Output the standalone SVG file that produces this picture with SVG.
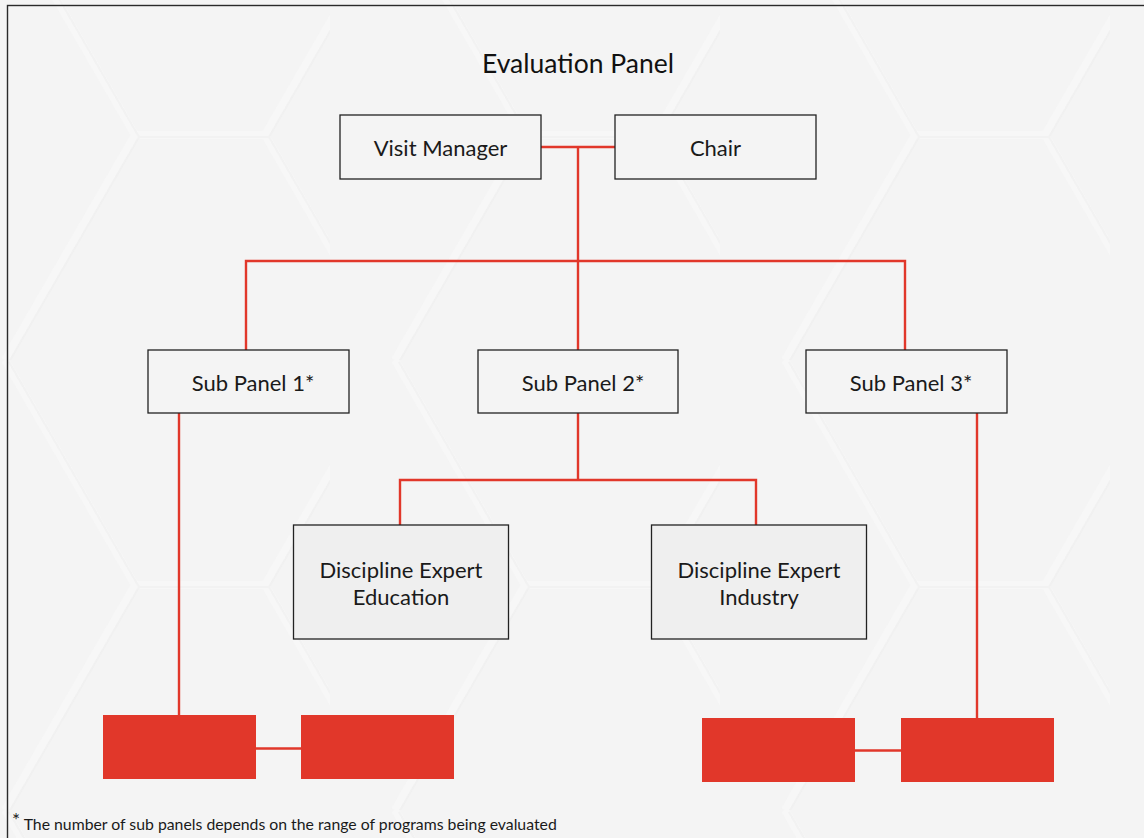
<svg xmlns="http://www.w3.org/2000/svg" width="1144" height="838" viewBox="0 0 1144 838">
  <style>
    .box { fill: #f4f4f4; stroke: #222; stroke-width: 1.3; }
    .box-alt { fill: #efefef; stroke: #222; stroke-width: 1.3; }
    .slot { fill: #e1372a; }
    .label { font-family: Lato, "Liberation Sans", sans-serif; font-size: 22px; fill: #1a1a1a; text-anchor: middle; }
    .title { font-family: Lato, "Liberation Sans", sans-serif; font-size: 26.5px; fill: #111; text-anchor: middle; }
    .note { font-family: Lato, "Liberation Sans", sans-serif; font-size: 15.8px; fill: #1a1a1a; }
    .link { fill: none; stroke: #e1372a; stroke-width: 2.4; }
  </style>
  <defs>
    <!-- faint hexagon texture for the backdrop -->
    <pattern id="hex" width="390" height="450" patternUnits="userSpaceOnUse" x="-60" y="-90">
      <g fill="none">
        <path d="M65 0 L195 225 L65 450 M195 225 L325 225 L455 0 M325 225 L455 450" stroke="#f9f9f9" stroke-width="8" opacity="0.7"/>
        <path d="M69 2 L199 227 L69 452 M199 227 L329 227 L459 2 M329 227 L459 452" stroke="#eeeeee" stroke-width="2" opacity="0.6"/>
      </g>
    </pattern>
  </defs>

  <!-- backdrop -->
  <rect x="0" y="0" width="1144" height="838" fill="#f4f4f4"/>
  <rect x="0" y="0" width="1144" height="838" fill="url(#hex)"/>
  <rect x="7.5" y="5.5" width="1200" height="900" fill="none" stroke="#2a2a2a" stroke-width="1.4"/>

  <text class="title" x="578" y="73">Evaluation Panel</text>

  <!-- connectors -->
  <g id="connectors">
    <path class="link" d="M541 147 H615"/>
    <path class="link" d="M578 147 V350"/>
    <path class="link" d="M246 350 V261 H905 V350"/>
    <path class="link" d="M179 413 V715"/>
    <path class="link" d="M578 413 V480"/>
    <path class="link" d="M400 525 V480 H756 V525"/>
    <path class="link" d="M977 413 V718"/>
    <path class="link" d="M256 748.5 H301"/>
    <path class="link" d="M855 750.5 H901"/>
  </g>

  <g id="visit-manager">
    <rect class="box" x="340" y="115" width="201" height="64"/>
    <text class="label" x="440.5" y="156">Visit Manager</text>
  </g>
  <g id="chair">
    <rect class="box" x="615" y="115" width="201" height="64"/>
    <text class="label" x="715.5" y="156">Chair</text>
  </g>

  <g id="sub-panel-1">
    <rect class="box" x="148" y="350" width="201" height="63"/>
    <text class="label" x="253" y="390.5">Sub Panel 1*</text>
  </g>
  <g id="sub-panel-2">
    <rect class="box" x="478" y="350" width="200" height="63"/>
    <text class="label" x="583" y="390.5">Sub Panel 2*</text>
  </g>
  <g id="sub-panel-3">
    <rect class="box" x="806" y="350" width="201" height="63"/>
    <text class="label" x="911" y="390.5">Sub Panel 3*</text>
  </g>

  <g id="expert-education">
    <rect class="box-alt" x="293.5" y="525" width="215" height="114"/>
    <text class="label" x="401" y="578">Discipline Expert</text>
    <text class="label" x="401" y="605">Education</text>
  </g>
  <g id="expert-industry">
    <rect class="box-alt" x="651.5" y="525" width="215" height="114"/>
    <text class="label" x="759" y="578">Discipline Expert</text>
    <text class="label" x="759" y="605">Industry</text>
  </g>

  <g id="slot-1a"><rect class="slot" x="103" y="715" width="153" height="64"/></g>
  <g id="slot-1b"><rect class="slot" x="301" y="715" width="153" height="64"/></g>
  <g id="slot-3a"><rect class="slot" x="702" y="718" width="153" height="64"/></g>
  <g id="slot-3b"><rect class="slot" x="901" y="718" width="153" height="64"/></g>

  <g id="footnote">
    <text class="note" x="12" y="830"><tspan font-size="19" dy="-3">*</tspan><tspan dy="3"> The number of sub panels depends on the range of programs being evaluated</tspan></text>
  </g>
</svg>
